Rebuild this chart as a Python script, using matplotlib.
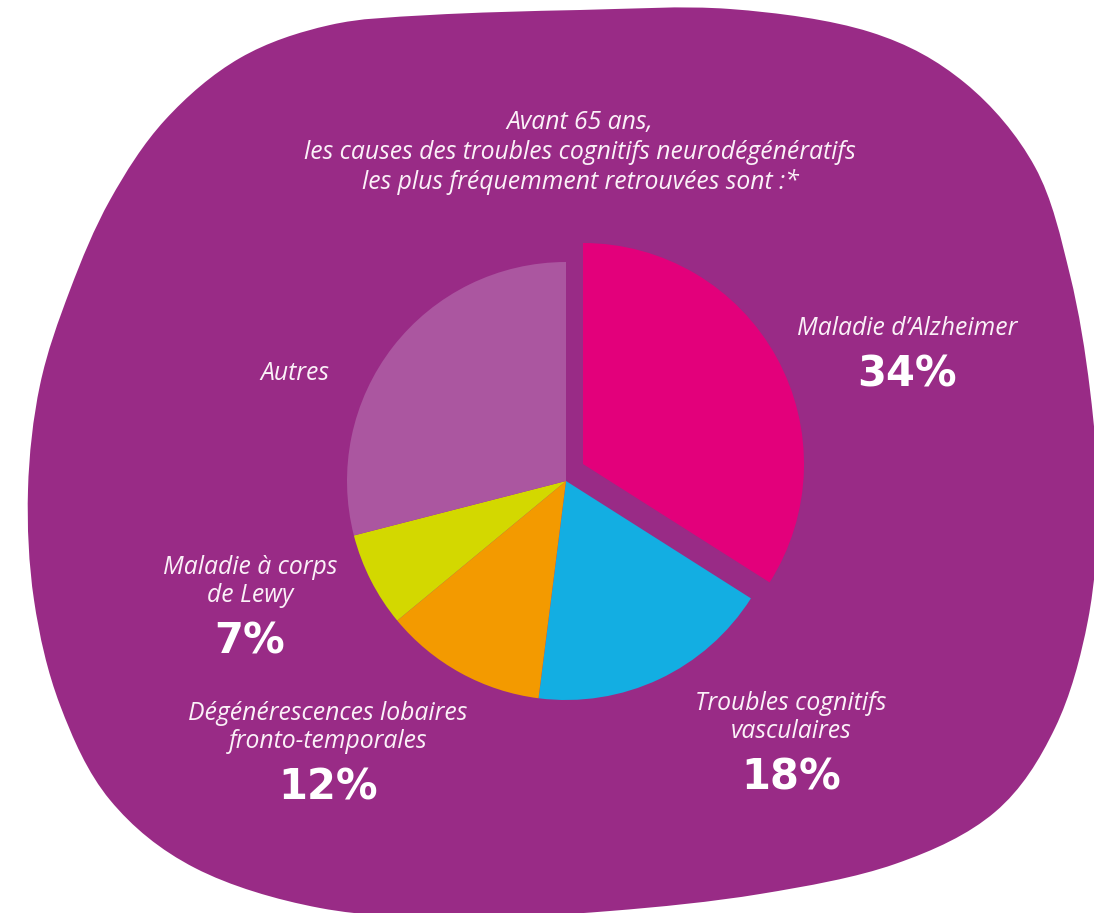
import numpy as np
import matplotlib.pyplot as plt
from matplotlib.path import Path
from matplotlib.patches import PathPatch

W, H = 1094, 913

categories = [
    "Maladie d’Alzheimer",
    "Troubles cognitifs\nvasculaires",
    "Dégénérescences lobaires\nfronto-temporales",
    "Maladie à corps\nde Lewy",
    "Autres",
]
values = [34, 18, 12, 7, 29]
show_pct = [True, True, True, True, False]
colors = ["#E3007B", "#13AEE2", "#F39A00", "#D3D800", "#AB56A0"]

title_lines = [
    "Avant 65 ans,",
    "les causes des troubles cognitifs neurodégénératifs",
    "les plus fréquemment retrouvées sont :*",
]

BG = "#992B86"
TXT = "#FBF1F8"

# label anchors, pixel coords from top-left (first line of each label)
label_pos = [(907, 328), (791, 703), (328, 713), (250, 568), (295, 373)]

# outline of the purple blob, pixel coords from top-left, clockwise
blob_pts = [
    (430, 15), (580, 10), (730, 9), (870, 32), (965, 83), (1035, 167),
    (1070, 275), (1090, 390), (1098, 505), (1088, 620), (1055, 728),
    (995, 812), (895, 864), (760, 894), (610, 911), (460, 918),
    (320, 908), (195, 868), (110, 800), (60, 705), (34, 600),
    (28, 490), (40, 385), (70, 290), (110, 200), (165, 120), (240, 58),
    (330, 25),
]


def closed_smooth_path(pts):
    pts = np.array(pts, dtype=float)
    n = len(pts)
    verts = [pts[0]]
    codes = [Path.MOVETO]
    for i in range(n):
        p0, p1 = pts[i - 1], pts[i]
        p2, p3 = pts[(i + 1) % n], pts[(i + 2) % n]
        c1 = p1 + (p2 - p0) / 6.0
        c2 = p2 - (p3 - p1) / 6.0
        verts += [c1, c2, p2]
        codes += [Path.CURVE4] * 3
    verts.append(pts[0])
    codes.append(Path.CLOSEPOLY)
    return Path(verts, codes)


fig = plt.figure(figsize=(W / 100, H / 100), dpi=100)
fig.patch.set_facecolor("white")
ax = fig.add_axes([0, 0, 1, 1])

blob = [(x, H - y) for x, y in blob_pts]
ax.add_patch(PathPatch(closed_smooth_path(blob), facecolor=BG, edgecolor="none", zorder=0))

cx, cy, R = 566, H - 481, 219
wedges, _ = ax.pie(
    values,
    colors=colors,
    startangle=90,
    counterclock=False,
    center=(cx, cy),
    radius=R,
    wedgeprops=dict(linewidth=0),
)
for w in wedges:
    w.set_zorder(2)
# Alzheimer slice pulled out from the pie
wedges[0].set_center((cx + 17, cy + 17))
wedges[0].set_radius(R + 2)

ax.set_xlim(0, W)
ax.set_ylim(0, H)
ax.set_aspect("equal")
ax.axis("off")

label_font = dict(family=["Open Sans", "DejaVu Sans"], style="italic", color=TXT)
pct_font = dict(family=["DejaVu Sans"], weight="bold", color="white")

for i, line in enumerate(title_lines):
    ax.text(580, H - (122 + i * 30), line, ha="center", va="center",
            fontsize=17.8, zorder=5, **label_font)

for cat, val, show, (lx, ly) in zip(categories, values, show_pct, label_pos):
    lines = cat.split("\n")
    for j, line in enumerate(lines):
        ax.text(lx, H - (ly + j * 28), line, ha="center", va="center",
                fontsize=17.8, zorder=5, **label_font)
    if show:
        py = ly + (len(lines) - 1) * 28 + 46
        ax.text(lx, H - py, f"{val}%", ha="center", va="center",
                fontsize=30, zorder=5, **pct_font)

fig.savefig("out.png", dpi=100, facecolor="white")
